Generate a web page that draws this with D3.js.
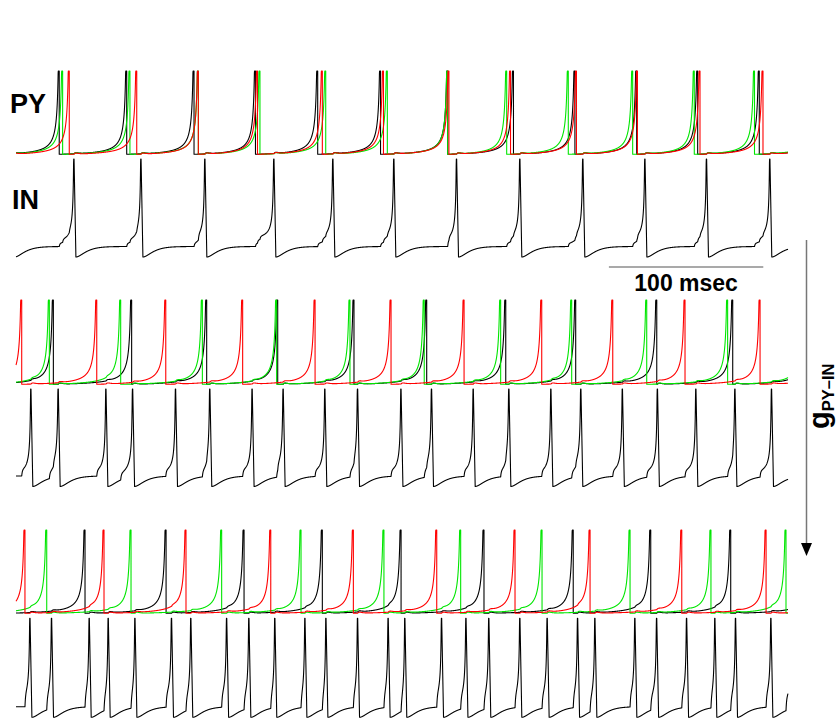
<!DOCTYPE html>
<html><head><meta charset="utf-8">
<script src="https://cdn.jsdelivr.net/npm/d3@7"></script>
<style>body{margin:0;background:#fff}svg{display:block}</style>
</head><body>
<svg id="c" width="837" height="721"></svg>
<script>
// ---------------- DATA (spike times in ms) ----------------
const timeDomain = [0, 500];
// Panel 1 (weak g_PY-IN)
const py1Black = [28.0, 71.7, 115.3, 155.1, 195.4, 236.1, 279.6, 322.2, 362.0, 402.0, 441.5, 481.4];
const py1Green = [30.2, 73.8, 118.1, 158.0, 200.6, 240.5, 279.6, 317.8, 357.7, 399.4, 439.3, 478.3];
const py1Red   = [34.5, 78.2, 118.1, 156.4, 198.4, 238.0, 280.4, 320.3, 363.0, 402.5, 443.0, 483.8];
const in1      = [-2, 37.6, 81.0, 122.4, 167.1, 205.3, 244.8, 285.4, 326.4, 367.2, 407.4, 447.3, 488.3];
// Panel 2
const py2Black = [24.2, 74.9, 123.5, 169.5, 218.9, 266.0, 317.2, 362.5, 415.0, 464.2];
const py2Green = [21.6, 67.8, 120.7, 168.8, 216.3, 264.4, 313.9, 359.9, 408.5, 460.9];
const py2Red   = [3.7, 52.3, 97.0, 146.8, 193.7, 242.9, 290.2, 340.5, 386.5, 433.3, 481.9];
const in2      = [9.7, 27.4, 58.3, 75.6, 103.4, 125.6, 153.0, 173.1, 200.1, 221.3, 249.4, 269.2,
                  296.2, 319.3, 346.5, 365.9, 392.8, 415.5, 440.4, 465.7, 489.4];
// Panel 3 (strong g_PY-IN)
const py3Black = [44.7, 97.2, 147.7, 198.4, 249.4, 303.1, 360.9, 411.1, 462.9];
const py3Green = [19.9, 74.5, 133.2, 184.6, 238.3, 288.0, 340.7, 397.7, 450.1, 498.7];
const py3Red   = [5.8, 57.0, 110.1, 165.0, 218.5, 272.5, 323.2, 371.8, 431.2, 485.8];
const in3      = [9.1, 23.1, 47.5, 59.8, 77.1, 100.8, 113.3, 136.5, 150.9, 167.7, 187.2, 200.8,
                  221.3, 241.1, 251.9, 275.7, 291.5, 306.3, 326.4, 344.1, 363.8, 375.0, 400.9,
                  415.0, 434.4, 452.7, 466.1, 489.0, 503.0];
const epspSize = [0.035, 0.07, 0.15];     // relative EPSP amplitude in IN per panel
const cellLabels = ["PY", "IN"];
const scaleBarMs = [384, 484];
const scaleBarLabel = "100 msec";
const gLabelMain = "g", gLabelSub = "PY\u2013IN";

// ---------------- LAYOUT ----------------
const svg = d3.select("#c");
const x = d3.scaleLinear().domain(timeDomain).range([16, 788]);
const colors = ["#000000", "#00e600", "#ff0000"];
const panels = [
  {py: [py1Black, py1Green, py1Red], inn: in1, pyTop: 71,  pyBase: 154.3, inTop: 159,   inBase: 246.5, h: epspSize[0]},
  {py: [py2Black, py2Green, py2Red], inn: in2, pyTop: 300, pyBase: 384.3, inTop: 389,   inBase: 476,   h: epspSize[1]},
  {py: [py3Black, py3Green, py3Red], inn: in3, pyTop: 530, pyBase: 613.3, inTop: 618.3, inBase: 706.7, h: epspSize[2]}
];
const C_PY = 1.0, C_IN = 0.45, D_IN = 0.12, TAU_R = 4, DOWN = 1.2, DT = 0.1;
const BUMP = 0.012, TAU_B = 1.2;
const T0 = timeDomain[0], T1 = timeDomain[1];

function meanISI(s) { return (s[s.length - 1] - s[0]) / (s.length - 1); }

function pyPoints(spikes, inSpikes) {
  const m = meanISI(spikes);
  const S = [spikes[0] - m, ...spikes, spikes[spikes.length - 1] + m];
  const pts = [];
  const bump = t => {
    let b = 0;
    for (const s of inSpikes) { const u = t - s; if (u > 0 && u < 12) b += BUMP * (u / TAU_B) * Math.exp(1 - u / TAU_B); }
    return b;
  };
  for (let k = 0; k < S.length - 1; k++) {
    const a = S[k], b = S[k + 1];
    if (b < T0 || a > T1) continue;
    const off = C_PY / (b - a + 0.3);
    const v = t => Math.min(1, Math.max(0, C_PY / (b - t + 0.3) - off + (t - a > 0.5 ? bump(t) : 0)));
    const t0 = Math.max(a, T0), t1 = Math.min(b, T1);
    if (a >= T0) { pts.push([a, 1]); pts.push([a, 0]); }
    for (let t = t0; t < t1; t += DT) pts.push([t, v(t)]);
    pts.push([t1, v(t1)]);
  }
  return pts;
}

function inPoints(spikes, pyAll, h) {
  const S = [-Infinity, ...spikes, Infinity];
  const pts = [];
  for (let k = 0; k < S.length - 1; k++) {
    const a = S[k], b = S[k + 1];
    if (b < T0 || a > T1) continue;
    const ep = pyAll.filter(s => s > a && s < b);
    const s0 = ep.length ? ep[0] : null;
    const f = t => {
      let v = 0;
      if (isFinite(a)) {
        const u = t - a - DOWN;
        if (u < 0) v = 1 - (1 + D_IN) * (t - a) / DOWN;
        else v = -D_IN * (1 + u / TAU_R) * Math.exp(-u / TAU_R);
      }
      for (const s of ep) if (t > s) v += h * (1 - Math.exp(-(t - s) / 0.4));
      if (isFinite(b) && s0 !== null && t > s0) v += C_IN * (1 / (b - t + 0.2) - 1 / (b - s0 + 0.2));
      return Math.min(1, v);
    };
    const t0 = Math.max(a, T0), t1 = Math.min(b, T1);
    for (let t = t0; t < t1; t += DT) pts.push([t, f(t)]);
    if (b <= T1) pts.push([b, 1]); else pts.push([T1, f(T1)]);
  }
  return pts;
}

panels.forEach(p => {
  const yPy = d3.scaleLinear().domain([0, 1]).range([p.pyBase, p.pyTop]);
  const yIn = d3.scaleLinear().domain([0, 1]).range([p.inBase, p.inTop]);
  const linePy = d3.line().x(d => x(d[0])).y(d => yPy(d[1]));
  const lineIn = d3.line().x(d => x(d[0])).y(d => yIn(d[1]));
  p.py.forEach((sp, i) => {
    svg.append("path").attr("d", linePy(pyPoints(sp, p.inn)))
      .attr("fill", "none").attr("stroke", colors[i]).attr("stroke-width", 1.1)
      .attr("stroke-linejoin", "round");
  });
  const pyAll = [].concat(...p.py).sort((a, b) => a - b);
  svg.append("path").attr("d", lineIn(inPoints(p.inn, pyAll, p.h)))
    .attr("fill", "none").attr("stroke", "#000").attr("stroke-width", 1.1)
    .attr("stroke-linejoin", "round");
});

// labels
const FONT = "Liberation Sans, Arial, Helvetica, sans-serif";
svg.append("text").attr("x", 10).attr("y", 112.7).text(cellLabels[0])
  .attr("font-family", FONT).attr("font-weight", "bold").attr("font-size", 27);
svg.append("text").attr("x", 12).attr("y", 208.5).text(cellLabels[1])
  .attr("font-family", FONT).attr("font-weight", "bold").attr("font-size", 27);

// scale bar
svg.append("line").attr("x1", x(scaleBarMs[0])).attr("x2", x(scaleBarMs[1]))
  .attr("y1", 267).attr("y2", 267).attr("stroke", "#555").attr("stroke-width", 1.2);
svg.append("text").attr("x", (x(scaleBarMs[0]) + x(scaleBarMs[1])) / 2).attr("y", 291)
  .attr("text-anchor", "middle").text(scaleBarLabel)
  .attr("font-family", FONT).attr("font-weight", "bold").attr("font-size", 23);

// arrow
svg.append("line").attr("x1", 806.5).attr("x2", 806.5).attr("y1", 240).attr("y2", 545)
  .attr("stroke", "#777").attr("stroke-width", 1.5);
svg.append("path").attr("d", "M801,543 L812,543 L806.5,556 Z").attr("fill", "#000");

const gt = svg.append("text").attr("transform", "translate(829,429) rotate(-90)")
  .attr("font-family", FONT).attr("font-weight", "bold");
gt.append("tspan").attr("font-size", 29).text(gLabelMain);
gt.append("tspan").attr("font-size", 16.5).attr("dy", 5).text(gLabelSub);
</script>
</body></html>
